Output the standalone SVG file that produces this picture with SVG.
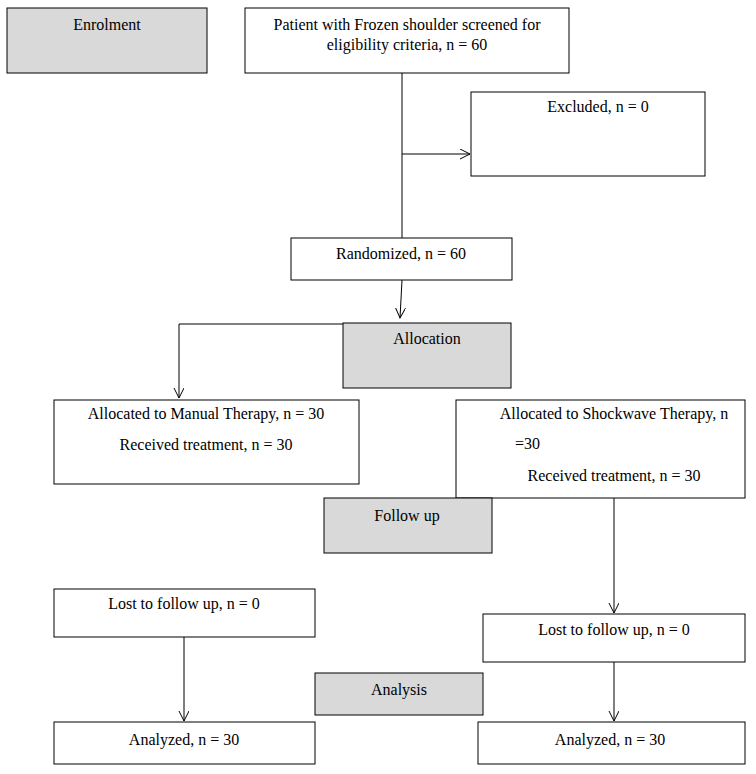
<svg xmlns="http://www.w3.org/2000/svg" width="756" height="774" viewBox="0 0 756 774">
<defs>
<marker id="ah" markerWidth="12" markerHeight="12" refX="10" refY="5" orient="auto" markerUnits="userSpaceOnUse">
<path d="M0,0 L10,5 L0,10" fill="none" stroke="#000" stroke-width="1"/>
</marker>
<style>
.b{fill:#fff;stroke:#000;stroke-width:1}
.g{fill:#d9d9d9;stroke:#000;stroke-width:1}
text{font-family:"Liberation Serif",serif;font-size:16px;fill:#000;text-anchor:middle}
.c{fill:none;stroke:#000;stroke-width:1}
</style>
</defs>
<rect width="756" height="774" fill="#fff"/>
<g id="connectors">
<line class="c" x1="402" y1="73" x2="402" y2="238"/>
<line class="c" x1="402" y1="154" x2="470" y2="154" marker-end="url(#ah)"/>
<line class="c" x1="402" y1="280" x2="400" y2="318" marker-end="url(#ah)"/>
<polyline class="c" points="343,324 179,324 179,398" marker-end="url(#ah)"/>
<line class="c" x1="614" y1="482" x2="614" y2="613" marker-end="url(#ah)"/>
<line class="c" x1="184" y1="637" x2="184" y2="721" marker-end="url(#ah)"/>
<line class="c" x1="614" y1="662" x2="614" y2="721" marker-end="url(#ah)"/>
</g>
<g id="enrolment"><rect class="g" x="7" y="8" width="200" height="65"/><text x="107" y="30">Enrolment</text></g>
<g id="screened"><rect class="b" x="245" y="8" width="324" height="65"/><text x="407" y="30">Patient with Frozen shoulder screened for</text><text x="407" y="50">eligibility criteria, n = 60</text></g>
<g id="excluded"><rect class="b" x="471" y="92" width="234" height="84"/><text x="598" y="112">Excluded, n = 0</text></g>
<g id="randomized"><rect class="b" x="291" y="238" width="221" height="42"/><text x="401" y="259">Randomized, n = 60</text></g>
<g id="allocation"><rect class="g" x="343" y="323" width="168" height="65"/><text x="427" y="344">Allocation</text></g>
<g id="manual"><rect class="b" x="54" y="400" width="305" height="84"/><text x="206" y="419">Allocated to Manual Therapy, n = 30</text><text x="206" y="450">Received treatment, n = 30</text></g>
<g id="shockwave"><rect class="b" x="456" y="400" width="289" height="98"/><text x="614" y="419">Allocated to Shockwave Therapy, n</text><text x="515" y="449" style="text-anchor:start">=30</text><text x="614" y="481">Received treatment, n = 30</text></g>
<g id="followup"><rect class="g" x="324" y="498" width="168" height="55"/><text x="407" y="521">Follow up</text></g>
<g id="lost-left"><rect class="b" x="54" y="589" width="261" height="48"/><text x="184" y="609">Lost to follow up, n = 0</text></g>
<g id="lost-right"><rect class="b" x="483" y="614" width="262" height="48"/><text x="614" y="635">Lost to follow up, n = 0</text></g>
<g id="analysis"><rect class="g" x="315" y="673" width="168" height="42"/><text x="399" y="695">Analysis</text></g>
<g id="analyzed-left"><rect class="b" x="54" y="722" width="261" height="42"/><text x="184" y="745">Analyzed, n = 30</text></g>
<g id="analyzed-right"><rect class="b" x="478" y="722" width="267" height="42"/><text x="610" y="745">Analyzed, n = 30</text></g>
</svg>
